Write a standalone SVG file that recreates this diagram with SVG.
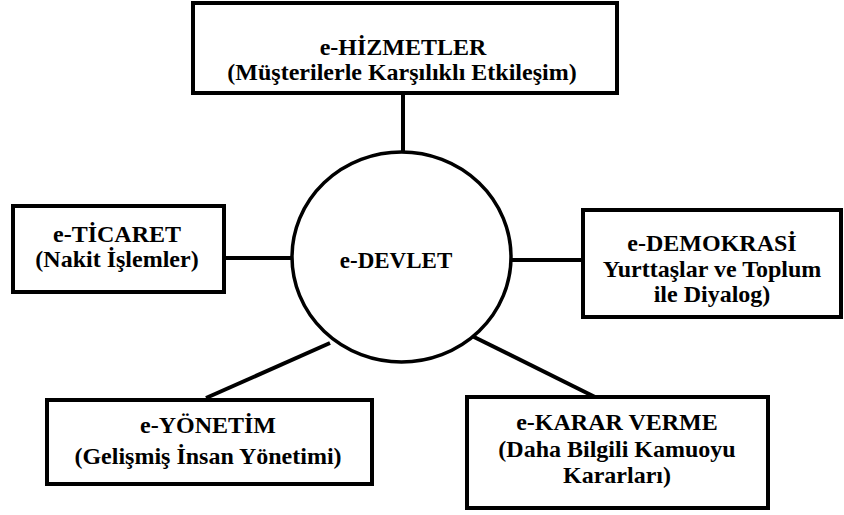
<svg xmlns="http://www.w3.org/2000/svg" width="844" height="515" viewBox="0 0 844 515">
<style>
.box{fill:#fff;stroke:#000;stroke-width:4}
.hub{fill:#fff;stroke:#000;stroke-width:3.5}
.con{stroke:#000;stroke-width:4;fill:none}
.t{font-family:'Liberation Serif','Times New Roman','DejaVu Serif',serif;font-weight:700;font-size:24px;fill:#000;text-anchor:middle}
</style>
<rect width="844" height="515" fill="#fff"/>
<g id="connectors">
<line class="con" x1="403" y1="93" x2="403" y2="152"/>
<line class="con" x1="224" y1="258" x2="293" y2="258"/>
<line class="con" x1="510" y1="260" x2="583" y2="260"/>
<line class="con" x1="206" y1="398" x2="330" y2="343"/>
<line class="con" x1="468" y1="334" x2="595" y2="397"/>
</g>
<g id="e-devlet">
<ellipse class="hub" cx="401.5" cy="257" rx="109.5" ry="105"/>
<text class="t" x="396" y="268" font-family="Liberation Serif, serif" style="font-size:23px">e-DEVLET</text>
</g>
<g id="e-hizmetler">
<rect class="box" x="193" y="3" width="424" height="90"/>
<text class="t" x="403" y="55">e-HİZMETLER</text>
<text class="t" x="402" y="80">(Müşterilerle Karşılıklı Etkileşim)</text>
</g>
<g id="e-ticaret">
<rect class="box" x="13" y="206" width="211" height="86"/>
<text class="t" x="117" y="242">e-TİCARET</text>
<text class="t" x="117" y="267">(Nakit İşlemler)</text>
</g>
<g id="e-demokrasi">
<rect class="box" x="583" y="210" width="258" height="107"/>
<text class="t" x="712" y="251">e-DEMOKRASİ</text>
<text class="t" x="712" y="277">Yurttaşlar ve Toplum</text>
<text class="t" x="712" y="302">ile Diyalog)</text>
</g>
<g id="e-yonetim">
<rect class="box" x="47" y="400" width="325" height="84"/>
<text class="t" x="208" y="433">e-YÖNETİM</text>
<text class="t" x="208" y="464">(Gelişmiş İnsan Yönetimi)</text>
</g>
<g id="e-karar-verme">
<rect class="box" x="467" y="397" width="301" height="111"/>
<text class="t" x="617" y="430">e-KARAR VERME</text>
<text class="t" x="617" y="457">(Daha Bilgili Kamuoyu</text>
<text class="t" x="617" y="483">Kararları)</text>
</g>
</svg>
